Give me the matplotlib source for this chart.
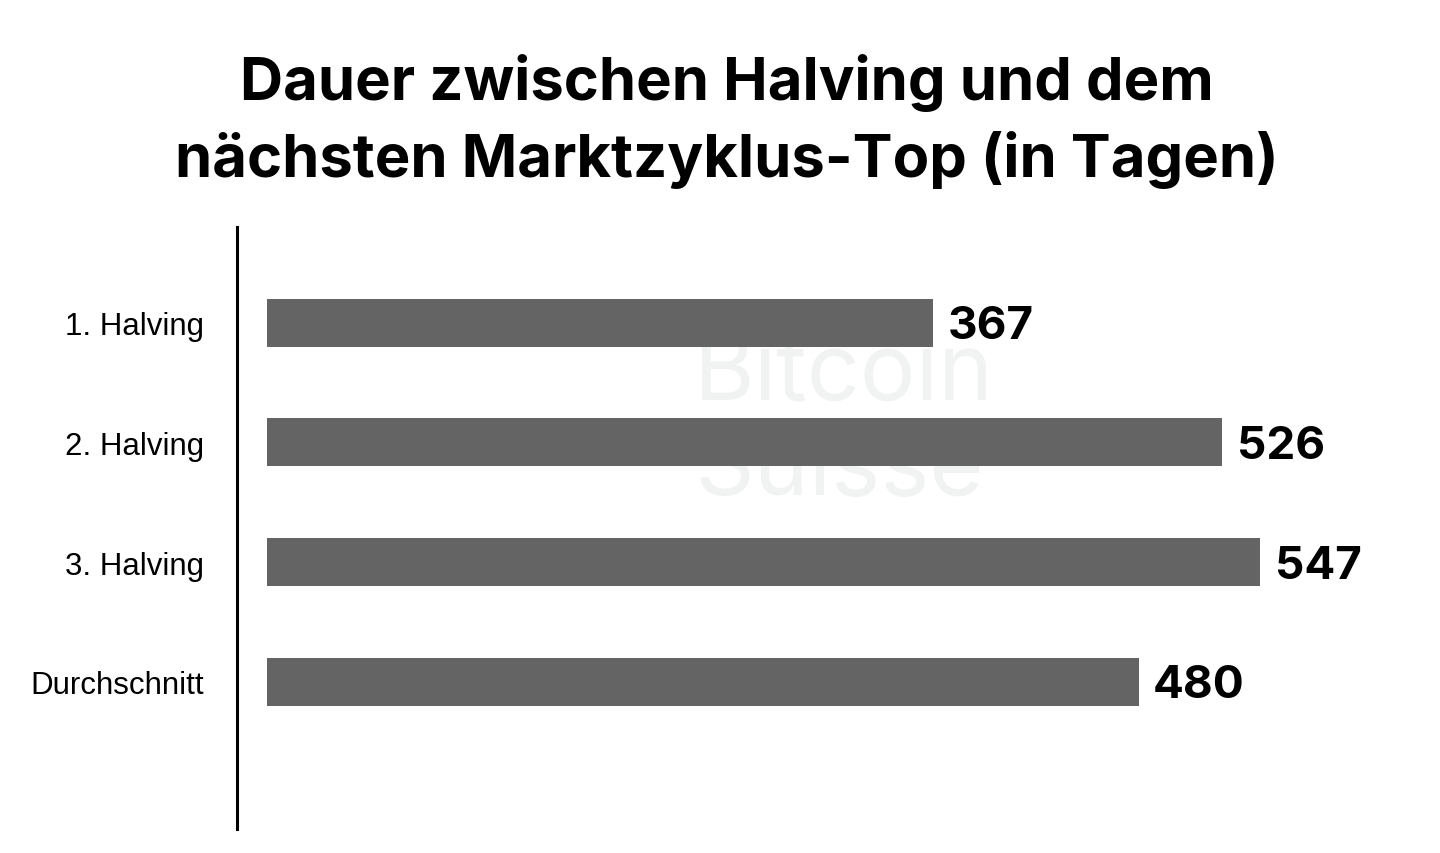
import matplotlib
matplotlib.use("Agg")
import matplotlib.pyplot as plt

# data
categories = ["1. Halving", "2. Halving", "3. Halving", "Durchschnitt"]
days = [367, 526, 547, 480]

title = "Dauer zwischen Halving und dem\nnächsten Marktzyklus-Top (in Tagen)"
bar_color = "#646464"

fig = plt.figure(figsize=(14.4, 8.54), dpi=100)
ax = fig.add_axes([0.1646, 0.0281, 0.8354, 0.705])

ypos = list(range(len(categories)))
ax.barh(ypos, days, height=0.40, color=bar_color, zorder=3)

for y, v in zip(ypos, days):
    ax.text(v + 8, y + 0.03, str(v), va="center", ha="left",
            fontsize=33, fontweight="bold", family="Inter", zorder=4)

ax.set_xlim(-16.5, 646)
ax.set_ylim(4.23, -0.80)
ax.set_yticks(ypos)
ax.set_yticklabels(categories, fontsize=22.5, family="Liberation Sans")
ax.tick_params(axis="y", length=0, pad=24)
for lbl in ax.get_yticklabels():
    lbl.set_verticalalignment("center_baseline")
ax.set_xticks([])

for side in ["top", "right", "bottom"]:
    ax.spines[side].set_visible(False)
ax.spines["left"].set_linewidth(2.2)

# faint watermark, kept behind the bars
ax.text(0.482, 0.505, "Bitcoin\nSuisse", fontsize=67, color="#f1f2f2",
        family="Inter", ha="left", va="center", linespacing=1.12,
        transform=fig.transFigure, zorder=1)

fig.text(0.505, 0.858, title, ha="center", va="center", fontsize=43,
         fontweight="bold", family="Inter", linespacing=1.42)

fig.savefig("out.png", dpi=100)
